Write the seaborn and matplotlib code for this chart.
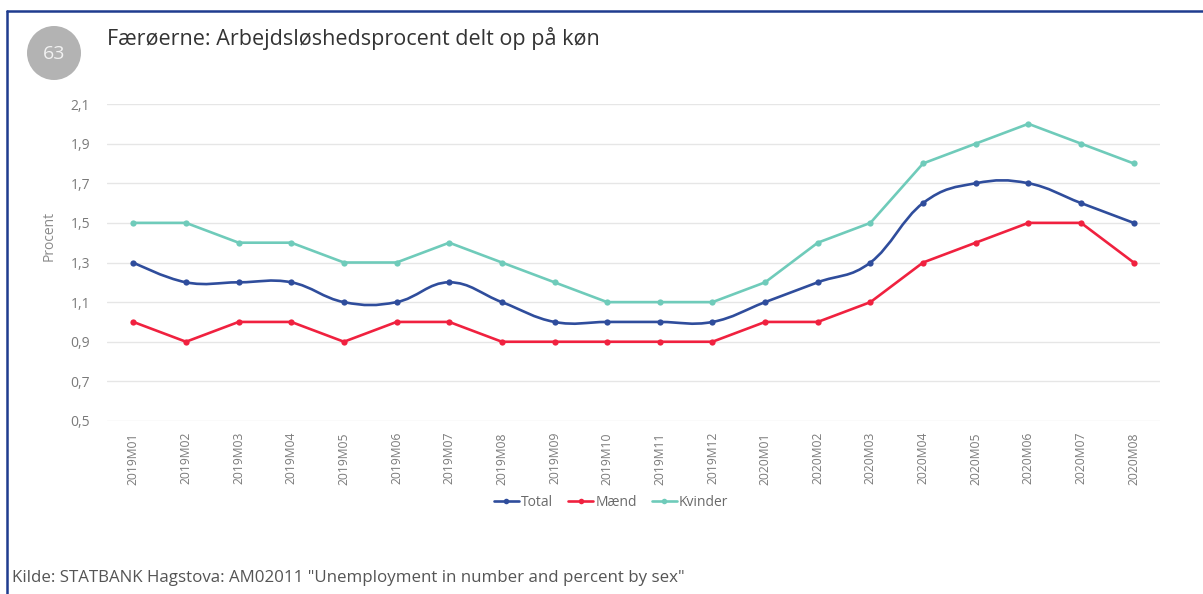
import numpy as np
import pandas as pd
import matplotlib
matplotlib.use("Agg")
import matplotlib.pyplot as plt
import seaborn as sns
from matplotlib.path import Path
from matplotlib.patches import PathPatch, Circle
from matplotlib.lines import Line2D

# data
months = ["2019M01", "2019M02", "2019M03", "2019M04", "2019M05", "2019M06",
          "2019M07", "2019M08", "2019M09", "2019M10", "2019M11", "2019M12",
          "2020M01", "2020M02", "2020M03", "2020M04", "2020M05", "2020M06",
          "2020M07", "2020M08"]
total = [1.3, 1.2, 1.2, 1.2, 1.1, 1.1, 1.2, 1.1, 1.0, 1.0, 1.0, 1.0,
         1.1, 1.2, 1.3, 1.6, 1.7, 1.7, 1.6, 1.5]
maend = [1.0, 0.9, 1.0, 1.0, 0.9, 1.0, 1.0, 0.9, 0.9, 0.9, 0.9, 0.9,
         1.0, 1.0, 1.1, 1.3, 1.4, 1.5, 1.5, 1.3]
kvinder = [1.5, 1.5, 1.4, 1.4, 1.3, 1.3, 1.4, 1.3, 1.2, 1.1, 1.1, 1.1,
           1.2, 1.4, 1.5, 1.8, 1.9, 2.0, 1.9, 1.8]
yticks = [0.5, 0.7, 0.9, 1.1, 1.3, 1.5, 1.7, 1.9, 2.1]

colors = {"Total": "#2f4d9c", "Mænd": "#f0213f", "Kvinder": "#6fcbba"}

df = pd.DataFrame({"idx": range(len(months)), "Total": total,
                   "Mænd": maend, "Kvinder": kvinder})
long = df.melt(id_vars="idx", var_name="serie", value_name="value")

sns.set_theme(style="white")
plt.rcParams["font.family"] = ["Open Sans", "DejaVu Sans"]

fig = plt.figure(figsize=(12.03, 5.94), dpi=100)
ax = fig.add_axes([107 / 1203, 1 - 421 / 594, (1160 - 107) / 1203, (421 - 104) / 594])

sns.lineplot(data=long, x="idx", y="value", hue="serie", palette=colors,
             marker="o", markersize=4.5, markeredgewidth=0, linewidth=1.9,
             legend=False, ax=ax)

# Total is drawn as a smooth spline, keep only its markers from seaborn
ax.lines[0].set_linestyle("none")


def spline_path(xs, ys, smoothing=1.5):
    # cubic bezier through the points, control points from the neighbours
    denom = smoothing + 1
    n = len(xs)
    left = [None] * n
    right = [None] * n
    for i in range(n):
        if i == 0 or i == n - 1:
            left[i] = (xs[i], ys[i])
            right[i] = (xs[i], ys[i])
            continue
        lx = (smoothing * xs[i] + xs[i - 1]) / denom
        ly = (smoothing * ys[i] + ys[i - 1]) / denom
        rx = (smoothing * xs[i] + xs[i + 1]) / denom
        ry = (smoothing * ys[i] + ys[i + 1]) / denom
        corr = (ry - ly) * (rx - xs[i]) / (rx - lx) + ys[i] - ry
        left[i] = (lx, ly + corr)
        right[i] = (rx, ry + corr)
    verts = [(xs[0], ys[0])]
    codes = [Path.MOVETO]
    for i in range(1, n):
        verts += [right[i - 1], left[i], (xs[i], ys[i])]
        codes += [Path.CURVE4] * 3
    return Path(verts, codes)


ax.add_patch(PathPatch(spline_path(list(df["idx"]), total), fill=False,
                       edgecolor=colors["Total"], linewidth=1.9, zorder=1.9))

ax.set_xlim(-0.5, len(months) - 0.5)
ax.set_ylim(0.5, 2.1)
ax.set_yticks(yticks)
ax.set_yticklabels([f"{v:.1f}".replace(".", ",") for v in yticks])
ax.set_xticks(range(len(months)))
ax.set_xticklabels(months, rotation=90)
ax.tick_params(axis="x", colors="#7a7a7a", labelsize=8.7, length=0, pad=8)
ax.tick_params(axis="y", colors="#7a7a7a", labelsize=10, length=0, pad=12)
ax.grid(axis="y", color="#e6e6e6", linewidth=1)
ax.grid(axis="x", visible=False)
for s in ax.spines.values():
    s.set_visible(False)
ax.set_xlabel("")
ax.set_ylabel("Procent", color="#8a8a8a", fontsize=10)
ax.yaxis.set_label_coords((57 - 107) / 1053, (421 - 236) / 317)

handles = [Line2D([], [], color=colors[k], linewidth=1.9, marker="o",
                  markersize=4, markeredgewidth=0) for k in ["Total", "Mænd", "Kvinder"]]
fig.legend(handles, ["Total", "Mænd", "Kvinder"], loc="center",
           bbox_to_anchor=(611 / 1203, 1 - 502 / 594), ncol=3, frameon=False,
           fontsize=10, labelcolor="#6a6a6a", handlelength=1.8, handletextpad=0.15,
           columnspacing=1.1)

# header: number badge and title
fig.add_artist(Circle((0.54, 5.41), 0.27, transform=fig.dpi_scale_trans,
                      facecolor="#b3b3b3", edgecolor="none"))
fig.text(54 / 1203, 1 - 54 / 594, "63", ha="center", va="center",
         color="#f2f2f2", fontsize=14)
fig.text(107 / 1203, 1 - 39 / 594, "Færøerne: Arbejdsløshedsprocent delt op på køn",
         ha="left", va="center", color="#333333", fontsize=15.5)

fig.text(12 / 1203, 1 - 578 / 594,
         'Kilde: STATBANK Hagstova: AM02011 "Unemployment in number and percent by sex"',
         ha="left", va="center", color="#555555", fontsize=12.2)

# blue frame on top and left
frame = "#1f3c8f"
fig.add_artist(Line2D([6.5 / 1203, 6.5 / 1203], [0, 1 - 11 / 594],
                      color=frame, linewidth=1.8, transform=fig.transFigure))
fig.add_artist(Line2D([6.5 / 1203, 1], [1 - 11 / 594, 1 - 11 / 594],
                      color=frame, linewidth=1.8, transform=fig.transFigure))

fig.savefig("out.png", dpi=100)
